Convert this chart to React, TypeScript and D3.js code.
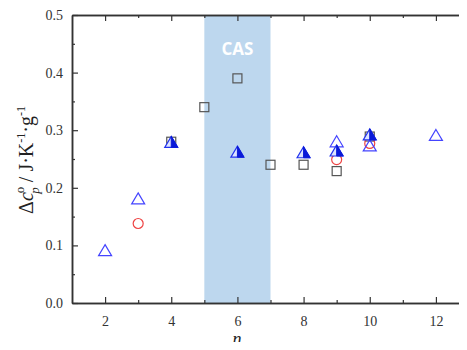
import React, { useEffect, useRef } from 'react';
import * as d3 from 'd3';

// open triangles
const triN = [2, 3, 9, 10, 12];
const triV = [0.09, 0.18, 0.279, 0.272, 0.29];
// open circles
const circN = [3, 9, 10];
const circV = [0.138, 0.249, 0.277];
// open squares
const sqN = [4, 5, 6, 7, 8, 9, 10];
const sqV = [0.28, 0.34, 0.39, 0.24, 0.24, 0.229, 0.289];
// half filled triangles
const halfN = [4, 6, 8, 9, 10];
const halfV = [0.278, 0.261, 0.26, 0.263, 0.291];

const xTicks = [2, 4, 6, 8, 10, 12];
const yTicks = [0, 0.1, 0.2, 0.3, 0.4, 0.5];
const casBand = [5, 7];

const W = 467;
const H = 350;
const m = { left: 72, right: 469, top: 15, bottom: 303 };
const serif = "'Times New Roman', 'Liberation Serif', serif";

const App = () => {
  const ref = useRef<SVGGElement>(null);

  useEffect(() => {
    const svg = d3.select(ref.current);
    svg.selectAll('*').remove();

    const x = d3.scaleLinear().domain([1, 13]).range([m.left, m.right]);
    const y = d3.scaleLinear().domain([0, 0.5]).range([m.bottom, m.top]);

    // CAS band
    svg.append('rect')
      .attr('x', x(casBand[0]))
      .attr('y', m.top)
      .attr('width', x(casBand[1]) - x(casBand[0]))
      .attr('height', m.bottom - m.top)
      .attr('fill', '#bdd7ee');
    svg.append('text')
      .attr('x', (x(casBand[0]) + x(casBand[1])) / 2)
      .attr('y', 55)
      .attr('text-anchor', 'middle')
      .attr('font-family', "'Open Sans', sans-serif")
      .attr('font-weight', 'bold')
      .attr('font-size', 17)
      .attr('fill', '#ffffff')
      .text('CAS');

    const axisColor = '#333';
    const minorX = [3, 5, 7, 9, 11];
    const minorY = [0.05, 0.15, 0.25, 0.35, 0.45];

    const styleAxis = (g: any) => {
      g.attr('font-family', serif);
      g.select('.domain').attr('stroke', axisColor).attr('stroke-width', 1.5);
      g.selectAll('.tick line').attr('stroke', axisColor).attr('stroke-width', 1.2);
      g.selectAll('.tick text')
        .attr('font-family', serif)
        .attr('font-size', 14)
        .attr('fill', '#333');
    };

    const addAxis = (axis: any, tx: number, ty: number) =>
      svg.append('g').attr('transform', `translate(${tx},${ty})`).call(axis).call(styleAxis);
    const none = () => '';

    // bottom
    addAxis(d3.axisBottom(x).tickValues(xTicks).tickSizeInner(-6).tickSizeOuter(0).tickPadding(13), 0, m.bottom);
    addAxis(d3.axisBottom(x).tickValues(minorX).tickSizeInner(-3).tickSizeOuter(0).tickFormat(none), 0, m.bottom);
    // top
    addAxis(d3.axisTop(x).tickValues(xTicks).tickSizeInner(-6).tickSizeOuter(0).tickFormat(none), 0, m.top);
    addAxis(d3.axisTop(x).tickValues(minorX).tickSizeInner(-3).tickSizeOuter(0).tickFormat(none), 0, m.top);
    // left
    addAxis(d3.axisLeft(y).tickValues(yTicks).tickSizeInner(-6).tickSizeOuter(0).tickPadding(9).tickFormat(d3.format('.1f')), m.left, 0);
    addAxis(d3.axisLeft(y).tickValues(minorY).tickSizeInner(-3).tickSizeOuter(0).tickFormat(none), m.left, 0);
    // right
    addAxis(d3.axisRight(y).tickValues(yTicks).tickSizeInner(-6).tickSizeOuter(0).tickFormat(none), m.right, 0);
    addAxis(d3.axisRight(y).tickValues(minorY).tickSizeInner(-3).tickSizeOuter(0).tickFormat(none), m.right, 0);

    const triPath = 'M0,-6.5L6.5,4.5L-6.5,4.5Z';

    // squares
    svg.append('g').selectAll('rect')
      .data(sqN.map((n, i) => [n, sqV[i]]))
      .enter().append('rect')
      .attr('x', d => x(d[0]) - 4.5)
      .attr('y', d => y(d[1]) - 4.5)
      .attr('width', 9)
      .attr('height', 9)
      .attr('fill', 'none')
      .attr('stroke', '#555')
      .attr('stroke-width', 1.2);

    // circles
    svg.append('g').selectAll('circle')
      .data(circN.map((n, i) => [n, circV[i]]))
      .enter().append('circle')
      .attr('cx', d => x(d[0]))
      .attr('cy', d => y(d[1]))
      .attr('r', 5)
      .attr('fill', 'none')
      .attr('stroke', '#ee4444')
      .attr('stroke-width', 1.2);

    // open triangles
    svg.append('g').selectAll('path')
      .data(triN.map((n, i) => [n, triV[i]]))
      .enter().append('path')
      .attr('transform', d => `translate(${x(d[0])},${y(d[1])})`)
      .attr('d', triPath)
      .attr('fill', 'none')
      .attr('stroke', '#4444ff')
      .attr('stroke-width', 1.2);

    // half filled triangles
    const hg = svg.append('g').selectAll('g')
      .data(halfN.map((n, i) => [n, halfV[i]]))
      .enter().append('g')
      .attr('transform', d => `translate(${x(d[0])},${y(d[1])})`);
    hg.append('path')
      .attr('d', triPath)
      .attr('fill', '#dde4ff')
      .attr('stroke', '#2233ee')
      .attr('stroke-width', 1.2);
    hg.append('path')
      .attr('d', 'M0,-6.5L6.5,4.5L0,4.5Z')
      .attr('fill', '#0a1ad8')
      .attr('stroke', '#0a1ad8')
      .attr('stroke-width', 1);
  }, []);

  return (
    <div style={{ margin: -8, width: W, height: H, overflow: 'hidden' }}>
      <svg width={W} height={H} style={{ display: 'block' }}>
        <g ref={ref} />
        <text x={237} y={345} textAnchor="middle" fontFamily={serif} fontStyle="italic" fontSize={18} fill="#222">n</text>
        <text transform="translate(33,160) rotate(-90)" textAnchor="middle" fontFamily={serif} fontSize={20} fill="#222">
          Δ<tspan fontStyle="italic">c</tspan>
          <tspan fontSize={13} dy={-9} dx={-1}>o</tspan>
          <tspan fontSize={13} fontStyle="italic" dy={15} dx={-7}>p</tspan>
          <tspan dy={-6}> / J·K</tspan>
          <tspan fontSize={12} dy={-8}>-1</tspan>
          <tspan dy={8}>·g</tspan>
          <tspan fontSize={12} dy={-8}>-1</tspan>
        </text>
      </svg>
    </div>
  );
};

export default App;
